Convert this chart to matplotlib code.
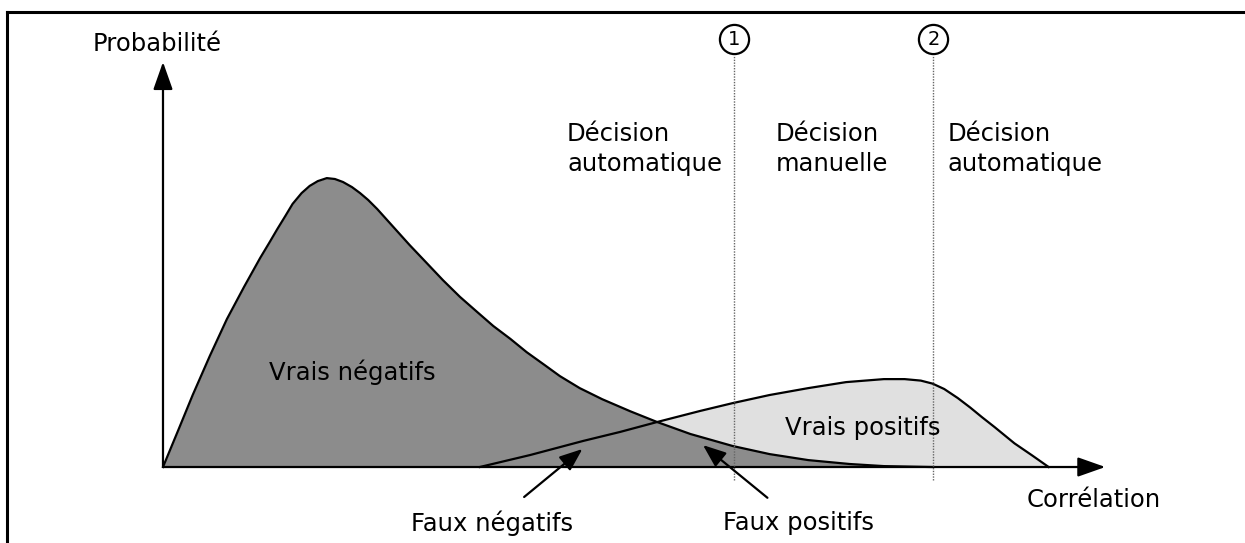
import numpy as np
import matplotlib
matplotlib.use("Agg")
import matplotlib.pyplot as plt

# courbe des négatifs (corrélation, probabilité)
neg_x = [0, 1.7, 3.3, 5.2, 7.1, 9.0, 10.8, 11.8, 12.7, 13.6, 14.4, 15.4, 16.3, 17.2, 18.2,
         19.1, 20.0, 21.0, 21.9, 22.8, 23.8, 25.6, 27.4, 29.3, 31.1, 33.0, 34.9, 36.7, 38.6,
         40.4, 42.4, 44.1, 46.3, 48.8, 51.9, 54.9, 58.6, 63.3, 67.4, 71.7, 76.3, 80.1, 85.4]
neg_y = [0, 12.3, 24.0, 37.0, 49.3, 60.0, 69.7, 74.7, 79.3, 83.7, 87.7, 91.3, 93.7, 95.3, 96.3,
         96.0, 95.0, 93.3, 91.3, 89.0, 86.0, 80.0, 74.0, 68.0, 62.3, 56.7, 51.7, 47.0, 42.7,
         38.3, 34.0, 30.3, 26.3, 22.6, 18.6, 15.0, 11.0, 7.0, 4.3, 2.3, 1.0, 0.3, 0]

# courbe des positifs
pos_x = [35.2, 40.8, 46.7, 50.8, 54.9, 59.7, 63.3, 67.4, 71.7, 75.9, 80.1, 82.4, 84.2,
         85.5, 86.8, 88.3, 89.7, 91.0, 92.4, 94.6, 96.6, 98.4]
pos_y = [0, 4.0, 8.7, 11.7, 15.0, 18.7, 21.3, 24.0, 26.3, 28.3, 29.3, 29.3, 28.8, 27.8,
         26.0, 23.0, 19.8, 16.6, 13.3, 7.9, 3.8, 0]

seuils = [63.4, 85.6]
seuil_labels = ["1", "2"]
zones = ["Décision\nautomatique", "Décision\nmanuelle", "Décision\nautomatique"]
zones_x = [44.9, 68.1, 87.2]

fig = plt.figure(figsize=(12.45, 5.43), dpi=100)
ax = fig.add_axes([0, 0, 1, 1])
ax.set_xlim(-18.11, 120.22)
ax.set_ylim(-25.33, 155.67)
ax.axis("off")

fs = 17.5

# cadre (haut + gauche)
fig.add_artist(plt.Line2D([7 / 1245, 1], [1 - 12 / 543, 1 - 12 / 543], color="black", lw=2.2))
fig.add_artist(plt.Line2D([7 / 1245, 7 / 1245], [0, 1 - 12 / 543], color="black", lw=2.2))

ax.fill_between(pos_x, pos_y, 0, color="#e0e0e0", lw=0, zorder=1)
ax.fill_between(neg_x, neg_y, 0, color="#8c8c8c", lw=0, zorder=2)
ax.plot(pos_x, pos_y, color="black", lw=1.6, zorder=3, solid_joinstyle="round")
ax.plot(neg_x, neg_y, color="black", lw=1.6, zorder=3, solid_joinstyle="round")

# axes avec flèches
ax.annotate("", xy=(0, 135), xytext=(0, 0),
            arrowprops=dict(arrowstyle="-|>,head_length=1.7,head_width=0.6", mutation_scale=10,
                            lw=1.6, color="black", shrinkA=0, shrinkB=0), zorder=4)
ax.annotate("", xy=(104.7, 0), xytext=(0, 0),
            arrowprops=dict(arrowstyle="-|>,head_length=1.7,head_width=0.6", mutation_scale=10,
                            lw=1.6, color="black", shrinkA=0, shrinkB=0), zorder=4)

ax.text(-0.67, 141, "Probabilité", fontsize=fs, ha="center", va="center")
ax.text(103.4, -11, "Corrélation", fontsize=fs, ha="center", va="center")

# seuils
for sx, lab in zip(seuils, seuil_labels):
    ax.plot([sx, sx], [-4.3, 137.3], color="#666666", lw=1, linestyle=(0, (1, 1)), zorder=5)
    ax.plot(sx, 142.7, "o", ms=21, mfc="white", mec="black", mew=1.6, zorder=6)
    ax.text(sx, 142.5, lab, fontsize=14, ha="center", va="center", zorder=7)

for zx, txt in zip(zones_x, zones):
    ax.text(zx, 106, txt, fontsize=fs, ha="left", va="center", linespacing=1.3)

ax.text(21.0, 31.7, "Vrais négatifs", fontsize=fs, ha="center", va="center", zorder=6)
ax.text(77.8, 13, "Vrais positifs", fontsize=fs, ha="center", va="center", zorder=6)

ax.annotate("Faux négatifs", xy=(46.6, 6), xytext=(36.6, -18.7), fontsize=fs,
            ha="center", va="center",
            arrowprops=dict(arrowstyle="-|>,head_length=1.4,head_width=0.55", mutation_scale=10,
                            lw=1.6, color="black", shrinkA=12, shrinkB=0), zorder=6)
ax.annotate("Faux positifs", xy=(60.0, 7.3), xytext=(70.6, -18.7), fontsize=fs,
            ha="center", va="center",
            arrowprops=dict(arrowstyle="-|>,head_length=1.4,head_width=0.55", mutation_scale=10,
                            lw=1.6, color="black", shrinkA=12, shrinkB=0), zorder=6)

fig.savefig("out.png", dpi=100)
